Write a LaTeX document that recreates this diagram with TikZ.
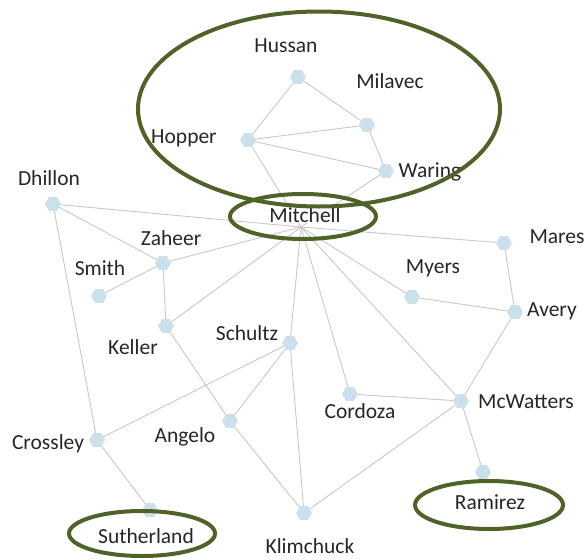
\documentclass[tikz,border=0pt]{standalone}
\usepackage{fontspec}
\setmainfont{Carlito}
\usetikzlibrary{shapes.geometric}
\definecolor{ringcol}{HTML}{4F6228}
\definecolor{edgecol}{HTML}{C8C8C8}
\definecolor{hexcol}{HTML}{CCE0EC}
\begin{document}
\begin{tikzpicture}[x=1pt,y=-1pt,
  person/.style={regular polygon,regular polygon sides=6,fill=hexcol,draw=none,minimum size=16pt,inner sep=0pt},
  hub/.style={inner sep=0pt,minimum size=0pt},
  lbl/.style={anchor=base,font=\fontsize{21.5}{24}\selectfont,text=black!85,inner sep=1pt},
  link/.style={draw=edgecol,line width=0.9pt},
  ring/.style={draw=ringcol,line width=4pt}]
\useasboundingbox (0,0) rectangle (587,560);
% people
\node[person] (Hussan) at (298,77) {};
\node[person] (Milavec) at (367,125) {};
\node[person] (Hopper) at (248,140) {};
\node[person] (Waring) at (386,171) {};
\node[person] (Dhillon) at (53,204) {};
\node[hub] (Mitchell) at (301,227) {};
\node[person] (Mares) at (504,243) {};
\node[person] (Zaheer) at (163,263) {};
\node[person] (Smith) at (99,296) {};
\node[person] (Myers) at (412,297) {};
\node[person] (Avery) at (515,312) {};
\node[person] (Keller) at (166,326) {};
\node[person] (Schultz) at (290,343) {};
\node[person] (Cordoza) at (350,394) {};
\node[person] (McWatters) at (461,401) {};
\node[person] (Angelo) at (230,421) {};
\node[person] (Crossley) at (97,440) {};
\node[person] (Ramirez) at (483,472) {};
\node[person] (Sutherland) at (150,510) {};
\node[person] (Klimchuck) at (304,513) {};
% connections
\foreach \a/\b in {Hussan/Hopper,Hussan/Milavec,Hopper/Milavec,Hopper/Waring,Milavec/Waring,
  Hopper/Mitchell,Waring/Mitchell,Dhillon/Mitchell,Dhillon/Zaheer,Dhillon/Crossley,
  Mitchell/Mares,Mitchell/Zaheer,Mitchell/Keller,Mitchell/Schultz,Mitchell/Cordoza,
  Mitchell/Myers,Mitchell/McWatters,Zaheer/Smith,Zaheer/Keller,Myers/Avery,Mares/Avery,
  Avery/McWatters,Keller/Angelo,Angelo/Klimchuck,Schultz/Angelo,Schultz/Crossley,
  Schultz/Klimchuck,Crossley/Sutherland,Cordoza/McWatters,McWatters/Klimchuck,McWatters/Ramirez}
  \draw[link] (\a) -- (\b);
% labels
\node[lbl] (tHussan) at (286,52) {Hussan};
\node[lbl] (tMilavec) at (390,88) {Milavec};
\node[lbl] (tHopper) at (184,143) {Hopper};
\node[lbl] (tWaring) at (430,177) {Waring};
\node[lbl] (tDhillon) at (49,185) {Dhillon};
\node[lbl,fill=white] (tMitchell) at (305,222) {Mitchell};
\node[lbl] (tZaheer) at (171,245) {Zaheer};
\node[lbl] (tMares) at (557,243) {Mares};
\node[lbl] (tSmith) at (100,275) {Smith};
\node[lbl] (tMyers) at (433,273) {Myers};
\node[lbl] (tAvery) at (552,316) {Avery};
\node[lbl] (tKeller) at (133,354) {Keller};
\node[lbl] (tSchultz) at (247,340) {Schultz};
\node[lbl] (tCordoza) at (360,418) {Cordoza};
\node[lbl] (tMcWatters) at (526,408) {McWatters};
\node[lbl] (tAngelo) at (185,442) {Angelo};
\node[lbl] (tCrossley) at (48,449) {Crossley};
\node[lbl] (tRamirez) at (490,509) {Ramirez};
\node[lbl] (tSutherland) at (146,543) {Sutherland};
\node[lbl] (tKlimchuck) at (310,553) {Klimchuck};
% highlight rings
\draw[ring] (319,109) ellipse [x radius=181,y radius=97.5];
\draw[ring] (303,216.5) ellipse [x radius=73,y radius=22.5];
\draw[ring] (142,533.5) ellipse [x radius=73,y radius=22.5];
\draw[ring] (489,505) ellipse [x radius=74,y radius=24];
\end{tikzpicture}
\end{document}
